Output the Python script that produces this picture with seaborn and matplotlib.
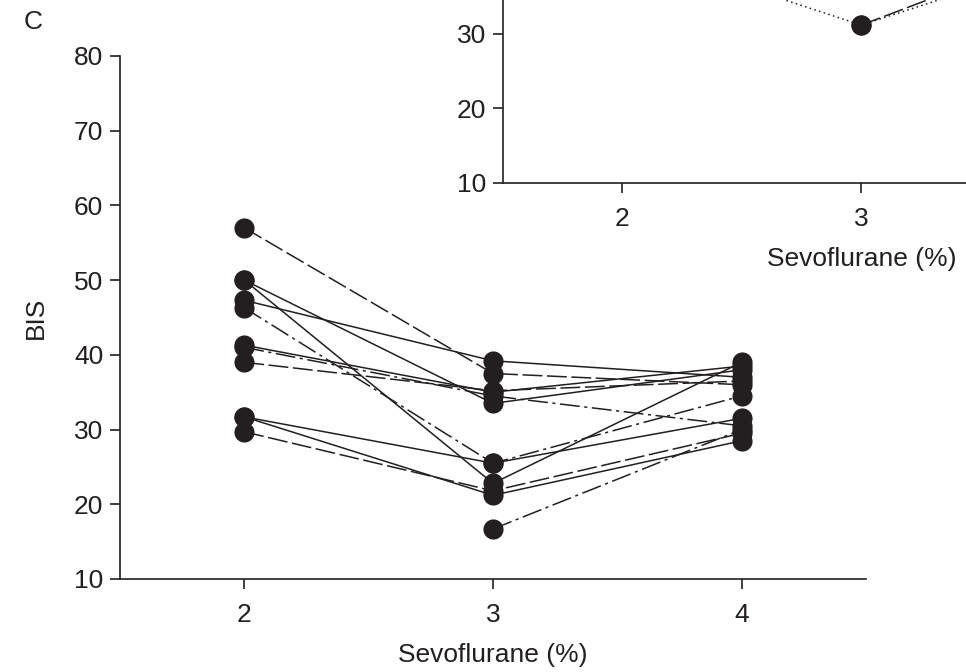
import numpy as np
import pandas as pd
import matplotlib
matplotlib.use("Agg")
import matplotlib.pyplot as plt
import seaborn as sns

# Sevoflurane concentrations (%) and BIS per subject at each level
sevo_levels = [2, 3, 4]
bis_at_2 = [57.0, 50.0, 50.0, 47.3, 46.3, 41.3, 41.0, 39.0, 31.7, 29.7, np.nan, 31.7]
bis_at_3 = [37.5, 33.5, 22.8, 39.2, 25.5, 35.0, 34.5, 35.2, 25.5, 21.8, 16.7, 21.2]
bis_at_4 = [36.0, 38.0, 39.0, 37.0, 34.5, 38.5, 30.5, 36.5, 31.5, 29.5, 30.0, 28.5]
line_kind = ["dash", "solid", "solid", "solid", "dashdot", "solid",
             "dashdot", "dash", "solid", "dash", "dashdot", "solid"]
bis_ticks = [10, 20, 30, 40, 50, 60, 70, 80]

# Neighbouring panel (only its lower left part is on the page)
side_bis_at_2 = [41.7, np.nan]
side_bis_at_3 = [31.2, 31.2]
side_bis_at_4 = [41.6, 43.4]
side_kind = ["dot", "dash"]
side_sevo_ticks = [2, 3]
side_bis_ticks = [10, 20, 30]

ink = "#231f20"
dash_styles = {"solid": "", "dash": (13, 3), "dashdot": (13, 3, 2, 3), "dot": (1, 2.2)}


def long_table(v2, v3, v4, kinds):
    rows = []
    for i, kind in enumerate(kinds):
        for lvl, vals in zip(sevo_levels, (v2, v3, v4)):
            rows.append({"subject": i, "sevo": lvl, "bis": vals[i], "kind": kind})
    return pd.DataFrame(rows)


def draw_panel(ax, df, xticks, yticks, fs):
    kinds = sorted(df["kind"].unique())
    sns.lineplot(
        data=df, x="sevo", y="bis", units="subject", estimator=None,
        style="kind", dashes={k: dash_styles[k] for k in kinds},
        markers={k: "o" for k in kinds}, color=ink, markersize=14.5,
        markeredgewidth=0, linewidth=1.1, legend=False, sort=False, ax=ax,
    )
    ax.set_xlim(1.5, 4.5)
    ax.set_ylim(10, 80)
    ax.set_xticks(xticks)
    ax.set_yticks(yticks)
    sns.despine(ax=ax)
    for side in ("left", "bottom"):
        ax.spines[side].set_color(ink)
        ax.spines[side].set_linewidth(1.2)
    ax.tick_params(direction="out", length=7, width=1.2, colors=ink,
                   labelsize=fs)
    ax.tick_params(axis="x", pad=10)
    ax.tick_params(axis="y", pad=5)
    ax.set_xlabel("Sevoflurane (%)", fontsize=fs, color=ink, labelpad=12)
    ax.set_facecolor("none")


sns.set_theme(style="ticks")
plt.rcParams["font.family"] = ["Liberation Sans", "DejaVu Sans"]

fig = plt.figure(figsize=(9.66, 6.72), dpi=100)

ax_side = fig.add_axes([0.5207, 0.7277, 0.742, 0.776])
draw_panel(ax_side, long_table(side_bis_at_2, side_bis_at_3, side_bis_at_4, side_kind),
           side_sevo_ticks, side_bis_ticks, 19)
ax_side.set_ylabel("")

ax = fig.add_axes([0.1242, 0.1384, 0.7723, 0.7783])
draw_panel(ax, long_table(bis_at_2, bis_at_3, bis_at_4, line_kind),
           sevo_levels, bis_ticks, 19)
ax.set_ylabel("BIS", fontsize=19, color=ink, labelpad=19)

fig.text(0.034, 0.968, "C", fontsize=19, color=ink, ha="center", va="center")

fig.savefig("out.png", dpi=100)
